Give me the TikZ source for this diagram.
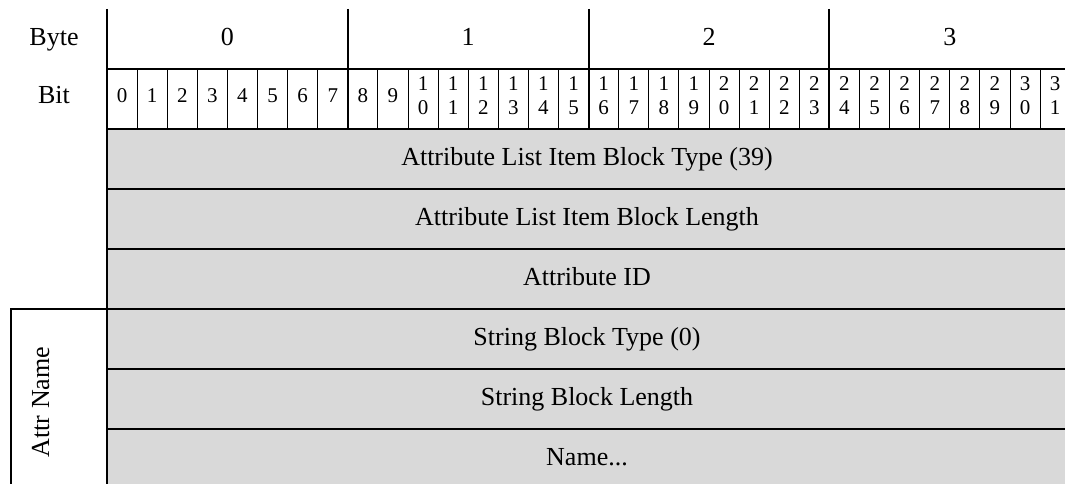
\documentclass[tikz,border=0pt]{standalone}
\usepackage{fontspec}
\setmainfont{Liberation Serif}
\definecolor{cellgray}{HTML}{D9D9D9}
\begin{document}
\begin{tikzpicture}[x=1pt,y=-1pt,
  thickline/.style={line width=2pt},
  thinline/.style={line width=1pt},
  big/.style={font=\fontsize{26}{30}\selectfont, inner sep=0pt, anchor=base},
  small/.style={font=\fontsize{21}{24}\selectfont, inner sep=0pt, anchor=base}]
\useasboundingbox (0,0) rectangle (1065,484);
% gray field area
\fill[cellgray] (107,129) rectangle (1065,484);
% thin bit dividers
\foreach \k in {1,...,31} {
  \draw[thinline] ({107+30.1*\k},69) -- ({107+30.1*\k},129);
}
% byte dividers
\foreach \j in {1,2,3} {
  \draw[thickline] ({107+240.8*\j},9) -- ({107+240.8*\j},129);
}
% left table border
\draw[thickline] (107,9) -- (107,484);
% horizontal lines
\foreach \yy in {69,129,189,249,369,429} {
  \draw[thickline] (107,\yy) -- (1065,\yy);
}
\draw[thickline] (11,484) -- (11,309) -- (1065,309);
% header labels
\node[big] (byte) at (54,46) {Byte};
\node[big] (bit) at (54,104) {Bit};
\foreach \j in {0,1,2,3} {
  \node[big] (byte\j) at ({107+240.8*\j+120.4},46) {\j};
}
\foreach \k in {0,...,9} {
  \node[small] (bit\k) at ({107+30.1*\k+15.05},103) {\k};
}
\foreach \k in {10,...,31} {
  \pgfmathtruncatemacro\hi{int(\k/10)}
  \pgfmathtruncatemacro\lo{mod(\k,10)}
  \node[small] (bit\k a) at ({107+30.1*\k+15.05},91) {\hi};
  \node[small] (bit\k b) at ({107+30.1*\k+15.05},115) {\lo};
}
% field labels
\node[big] (f1) at (587,165) {Attribute List Item Block Type (39)};
\node[big] (f2) at (587,225) {Attribute List Item Block Length};
\node[big] (f3) at (587,285) {Attribute ID};
\node[big] (f4) at (587,345) {String Block Type (0)};
\node[big] (f5) at (587,405) {String Block Length};
\node[big] (f6) at (587,465) {Name...};
% group label
\node[font=\fontsize{26}{30}\selectfont, inner sep=0pt, anchor=base, rotate=90] (attr) at (49,402) {Attr Name};
\end{tikzpicture}
\end{document}
